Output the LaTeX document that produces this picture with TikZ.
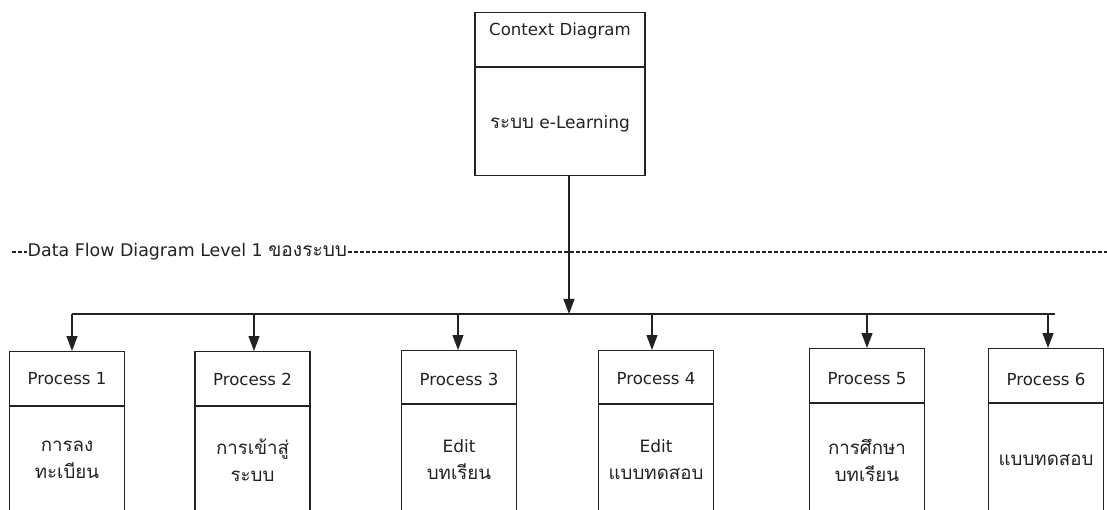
\documentclass[tikz,border=0pt]{standalone}
\usepackage{fontspec}
\setmainfont{DejaVu Sans}
\newfontfamily\thaifont[Script=Thai,Scale=1.1]{Loma}
\usetikzlibrary{arrows.meta}
\definecolor{ink}{HTML}{222222}
\tikzset{
  x=1pt, y=-1pt,
  boxline/.style={draw=ink, line width=1.1pt},
  procbox/.style={boxline, minimum width=115pt, minimum height=190pt, anchor=north, inner sep=0pt},
  ctxbox/.style={boxline, minimum width=170pt, minimum height=163pt, anchor=north, inner sep=0pt},
  headtxt/.style={font=\fontsize{16.6}{18}\selectfont, text=ink, inner sep=1pt},
  dfdtxt/.style={font=\fontsize{17.4}{19}\selectfont, text=ink, inner sep=1pt},
  bodytxt/.style={font=\fontsize{17}{27}\selectfont, text=ink, align=center, inner sep=1pt},
  flow/.style={draw=ink, line width=1.1pt},
  flowarrow/.style={flow, -{Triangle[length=15pt,width=11pt]}},
  sepline/.style={draw=ink, line width=1.2pt, dash pattern=on 3.5pt off 2.5pt},
}
\begin{document}
\begin{tikzpicture}
\useasboundingbox (0,0) rectangle (1107,510);
\clip (0,0) rectangle (1107,510);
\fill[white] (0,0) rectangle (1107,510);

% context box
\node[ctxbox] (ctx) at (560,12) {};
\draw[boxline] (ctx.west |- 0,67) -- (ctx.east |- 0,67);
\node[headtxt] (ctxh) at (560,31) {Context Diagram};
\node[bodytxt] (ctxb) at (560,124) {{\thaifont ระบบ} e-Learning};

% separator
\coordinate (sepL) at (12,252);
\coordinate (sepR) at (1107,252);
\draw[sepline] (sepL) -- (sepR);
\node[dfdtxt, fill=white, anchor=west, inner xsep=0.5pt] (dfd) at (27,252) {Data Flow Diagram Level 1 {\thaifont ของระบบ}};

% bus
\coordinate (bus) at (569,314);
\coordinate (busL) at (72,314);
\coordinate (busR) at (1055,314);
\draw[flowarrow] (ctx.south -| bus) -- (bus);
\draw[flow] (busL) -- (busR);

% processes
\foreach \n/\cx/\ax/\top/\dv/\body in {
  1/67/72/351/406/{{\thaifont การลง}\\{\thaifont ทะเบียน}},
  2/252.5/254/351/406/{{\thaifont การเข้าสู่}\\{\thaifont ระบบ}},
  3/459/458/350/404/{Edit\\{\thaifont บทเรียน}},
  4/656/652/350/404/{Edit\\{\thaifont แบบทดสอบ}},
  5/867/867/348/403/{{\thaifont การศึกษา}\\{\thaifont บทเรียน}},
  6/1046/1048/348/403/{{\thaifont แบบทดสอบ}}}{
  \node[procbox] (p\n) at (\cx,\top) {};
  \draw[boxline] (p\n.west |- 0,\dv) -- (p\n.east |- 0,\dv);
  \node[headtxt] (p\n h) at (\cx,379) {Process \n};
  \node[bodytxt] (p\n b) at (\cx,460) {\body};
  \coordinate (a\n) at (\ax,314);
  \draw[flowarrow] (a\n) -- (a\n |- p\n.north);
}
\end{tikzpicture}
\end{document}
